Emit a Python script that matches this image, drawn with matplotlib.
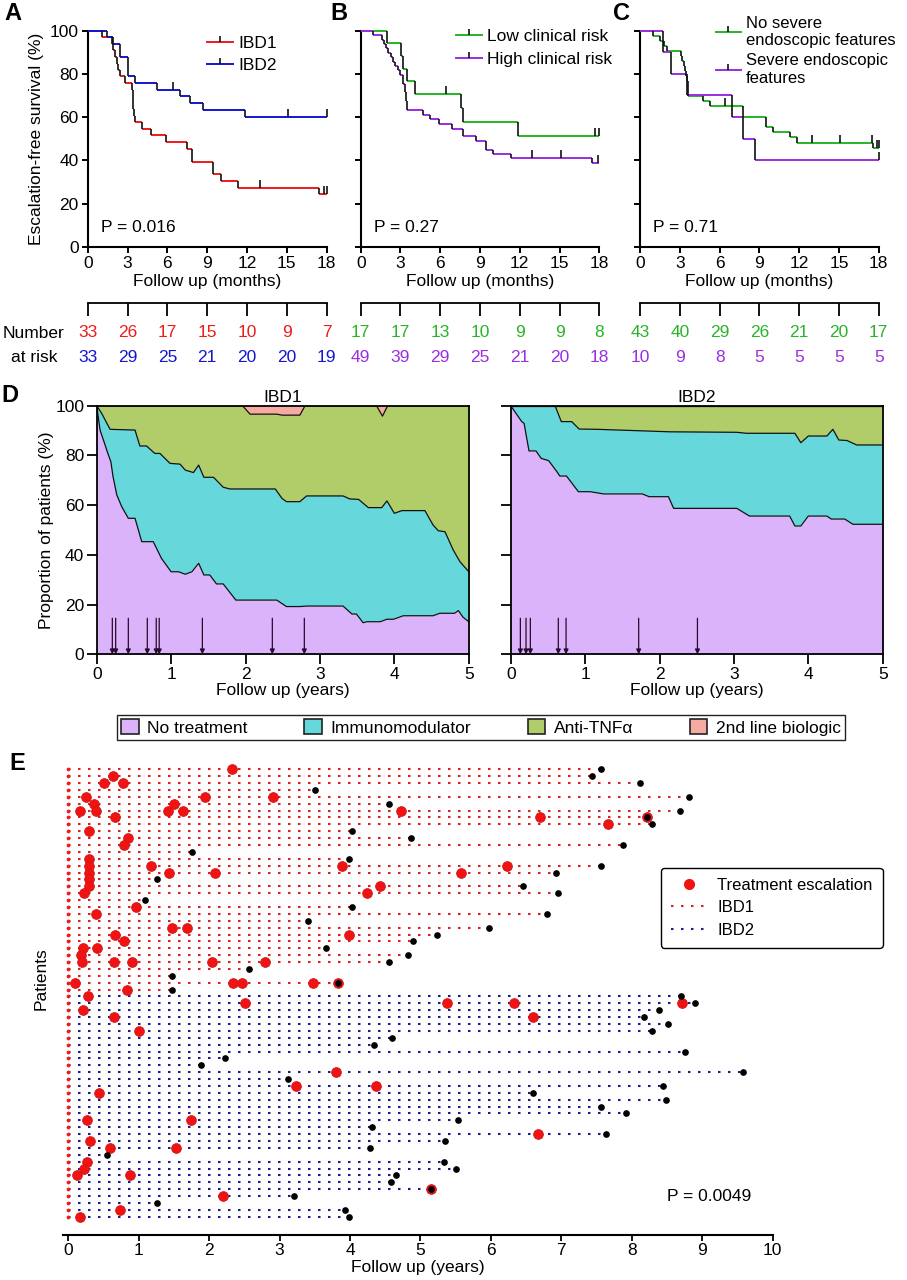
import matplotlib
matplotlib.use('Agg')
import matplotlib.pyplot as plt
import numpy as np
from matplotlib.lines import Line2D
from matplotlib.patches import Patch

plt.rcParams['font.family'] = ['Liberation Sans', 'DejaVu Sans']

# ---------------- DATA ----------------
# Panel A: escalation-free survival (months, %)
a_ibd1_t = [0, 1.05, 1.81, 1.93, 2.05, 2.18, 2.31, 2.45, 2.81, 3.31, 3.38, 3.44, 3.50, 3.57, 4.07, 4.75, 5.87, 7.46, 7.83, 9.47, 10.02, 11.35, 17.42]
a_ibd1_s = [100, 97.0, 93.9, 90.9, 87.9, 84.8, 81.8, 78.8, 75.8, 72.7, 69.7, 63.6, 60.6, 57.6, 54.5, 51.5, 48.5, 45.4, 39.4, 33.7, 30.6, 27.3, 24.2]
a_ibd1_c = [12.98, 17.8, 18.0]
a_ibd2_t = [0, 1.43, 1.93, 2.43, 3.02, 3.07, 3.57, 5.20, 6.95, 7.71, 8.71, 11.85]
a_ibd2_s = [100, 97.0, 93.9, 87.9, 81.8, 78.8, 75.8, 72.7, 69.6, 66.5, 63.3, 60.1]
a_ibd2_c = [6.45, 15.1, 18.0]

# Panel B
b_low_t = [0, 1.96, 3.02, 3.22, 3.50, 4.10, 7.54, 7.69, 11.89]
b_low_s = [100, 94.1, 88.2, 82.4, 76.5, 70.6, 64.2, 57.8, 51.4]
b_low_c = [6.44, 17.7, 18.0]
b_high_t = [0, 0.96, 1.58, 1.76, 1.91, 2.09, 2.26, 2.41, 2.59, 2.79, 2.97, 3.17, 3.34, 3.42, 3.52, 4.68, 5.23, 5.93, 6.86, 7.74, 8.67, 9.45, 10.0, 11.34, 17.47]
b_high_s = [100, 98.0, 95.9, 93.9, 91.8, 89.8, 87.8, 85.7, 83.7, 81.6, 79.6, 75.5, 71.4, 67.3, 63.3, 61.1, 59.3, 56.8, 54.5, 51.2, 49.1, 44.8, 42.9, 40.9, 38.6]
b_high_c = [12.92, 15.08, 17.9]

# Panel C
c_no_t = [0, 1.0, 1.51, 1.81, 2.01, 3.07, 3.20, 3.30, 3.40, 3.47, 3.55, 3.60, 3.65, 4.78, 5.28, 7.74, 9.48, 10.05, 11.30, 11.86, 17.6]
c_no_s = [100, 97.7, 95.3, 93.0, 90.7, 88.4, 86.0, 83.7, 81.4, 79.1, 76.7, 74.4, 69.8, 67.4, 65.0, 60.2, 55.6, 53.2, 50.7, 48.1, 45.7]
c_no_c = [6.41, 12.95, 15.08, 17.47, 17.85, 18.0]
c_sev_t = [0, 1.76, 2.31, 3.57, 6.91, 7.74, 8.67]
c_sev_s = [100, 90, 80, 70, 60, 50, 40]
c_sev_c = [18.0]

risk_times = [0, 3, 6, 9, 12, 15, 18]
risk_a1 = [33, 26, 17, 15, 10, 9, 7]
risk_a2 = [33, 29, 25, 21, 20, 20, 19]
risk_b1 = [17, 17, 13, 10, 9, 9, 8]
risk_b2 = [49, 39, 29, 25, 21, 20, 18]
risk_c1 = [43, 40, 29, 26, 21, 20, 17]
risk_c2 = [10, 9, 8, 5, 5, 5, 5]

# Panel D (years, cumulative %): boundaries between layers
d1_b1_t = [0, 0.045, 0.09, 0.157, 0.19, 0.22, 0.27, 0.336, 0.425, 0.515, 0.605, 0.76, 0.87, 1.0, 1.1, 1.19, 1.28, 1.37, 1.44, 1.52, 1.61, 1.70, 1.87, 2.42, 2.55, 2.73, 2.82, 3.31, 3.43, 3.49, 3.58, 3.63, 3.81, 3.9, 3.99, 4.12, 4.52, 4.61, 4.81, 4.86, 4.92, 5.0]
d1_b1_y = [100, 90.2, 86.2, 80.2, 77.5, 71.4, 64.1, 59.4, 54.7, 54.7, 45.3, 45.3, 38.6, 33.2, 33.2, 32.2, 33.2, 36.6, 31.9, 31.9, 28.3, 28.3, 21.8, 21.8, 19.2, 19.2, 19.4, 19.4, 16.2, 16.2, 12.7, 13.1, 13.1, 14.1, 14.1, 15.5, 15.5, 16.5, 16.5, 17.6, 15.0, 13.1]
d1_b2_t = [0, 0.067, 0.18, 0.515, 0.58, 0.67, 0.78, 0.85, 0.985, 1.12, 1.19, 1.30, 1.37, 1.44, 1.57, 1.70, 1.79, 2.40, 2.49, 2.55, 2.73, 2.82, 3.31, 3.40, 3.52, 3.65, 3.83, 3.90, 4.0, 4.10, 4.41, 4.52, 4.59, 4.68, 4.79, 4.88, 5.0]
d1_b2_y = [100, 96.9, 90.5, 90.2, 83.8, 83.8, 80.8, 80.8, 76.8, 76.5, 74.1, 73.1, 76.1, 71.2, 71.2, 67.2, 66.5, 66.5, 62.7, 61.4, 61.4, 63.7, 63.7, 62.5, 62.3, 59.0, 59.0, 61.7, 56.7, 57.8, 57.8, 52.0, 49.7, 49.3, 42.0, 37.3, 33.2]
d1_b3_t = [0, 1.96, 2.06, 2.42, 2.49, 2.73, 2.80, 3.76, 3.84, 3.91, 5.0]
d1_b3_y = [100, 100, 96.6, 96.6, 96.2, 96.2, 100, 100, 95.8, 100, 100]
d1_arrows = [0.21, 0.255, 0.425, 0.68, 0.80, 0.84, 1.42, 2.36, 2.79]

d2_b1_t = [0, 0.148, 0.18, 0.246, 0.34, 0.41, 0.51, 0.62, 0.66, 0.75, 0.91, 1.07, 1.25, 1.77, 1.86, 2.12, 2.19, 3.04, 3.21, 3.75, 3.82, 3.90, 4.0, 4.25, 4.31, 4.49, 4.60, 5.0]
d2_b1_y = [100, 93.6, 92.9, 81.8, 81.8, 78.8, 77.9, 73.5, 71.7, 71.7, 65.4, 65.4, 64.5, 64.5, 63.4, 63.4, 58.7, 58.7, 55.6, 55.6, 51.6, 51.6, 55.6, 55.6, 54.4, 54.4, 52.3, 52.3]
d2_b2_t = [0, 0.596, 0.68, 0.82, 0.92, 1.16, 2.14, 3.04, 3.17, 3.82, 3.90, 4.0, 4.25, 4.33, 4.41, 4.52, 4.65, 5.0]
d2_b2_y = [100, 100, 93.6, 93.6, 90.6, 90.5, 89.5, 89.3, 88.9, 88.9, 85.1, 87.8, 87.8, 90.5, 86.2, 86.0, 84.2, 84.2]
d2_b3_t = [0, 5.0]
d2_b3_y = [100, 100]
d2_arrows = [0.13, 0.206, 0.264, 0.64, 0.744, 1.72, 2.51]

d_labels = ['No treatment', 'Immunomodulator', 'Anti-TNFα', '2nd line biologic']

# Panel E: swimmer plot (years)
ibd1_end = [7.56, 7.44, 8.11, 3.50, 8.81, 4.56, 8.69, 8.22, 8.29, 4.03, 4.87, 7.88, 1.76, 3.98, 7.56, 6.93, 1.26,
            6.46, 6.95, 1.09, 4.03, 6.79, 3.40, 5.97, 5.23, 4.89, 3.66, 4.82, 4.55, 2.57, 1.48, 3.83, 1.48]
ibd1_esc = [[2.33], [0.64], [0.51, 0.78], [], [0.25, 1.94, 2.90], [0.37, 1.50], [0.17, 0.39, 1.41, 1.63, 4.73],
            [0.66, 6.70, 8.22], [7.66], [0.30], [0.85], [0.79], [], [0.30], [0.30, 1.17, 3.88, 6.23],
            [0.30, 1.43, 2.09, 5.58], [0.30], [0.30, 4.43], [0.22, 4.24], [], [0.96], [0.40], [], [1.47, 1.68],
            [0.66, 3.98], [0.79], [0.21, 0.41], [0.18], [0.19, 0.65, 0.90, 2.04, 2.79], [], [],
            [0.10, 2.34, 2.47, 3.47, 3.83], [0.84]]
ibd2_end = [8.70, 8.90, 8.38, 8.18, 8.51, 8.29, 4.60, 4.34, 8.76, 2.23, 1.89, 9.58, 3.125, 8.44, 6.60, 8.48, 7.56,
            7.92, 5.53, 4.31, 7.63, 5.35, 4.28, 0.545, 5.34, 5.51, 4.65, 4.58, 5.15, 3.21, 1.26, 3.93, 3.99]
ibd2_esc = [[0.28], [2.51, 5.37, 6.33, 8.71], [0.21], [0.65, 6.60], [], [1.00], [], [], [], [], [], [3.80], [],
            [3.23, 4.37], [0.44], [], [], [], [0.27, 1.74], [], [6.67], [0.31], [0.59, 1.53], [], [0.27], [0.22],
            [0.13, 0.87], [], [5.15], [2.19], [], [0.74], [0.17]]

# ---------------- STYLE ----------------
W, H = 907, 1280
RED = '#ee1b1b'
BLUE = '#1515cf'
GREEN = '#27b427'
PURPLE = '#9a2ee0'
C_NONE = '#dab3fb'
C_IMM = '#66d8dc'
C_TNF = '#b1cd69'
C_BIO = '#f5aaa2'
FS = 12.5

fig = plt.figure(figsize=(W / 100, H / 100), dpi=100)


def fbox(x0, y0, x1, y1):
    return [x0 / W, 1 - y1 / H, (x1 - x0) / W, (y1 - y0) / H]


def km(ax, t, s, color, censor, tend=18):
    tt = list(t) + [tend]
    ax.hlines(s, tt[:-1], tt[1:], colors=color, lw=1.4, clip_on=False, zorder=3)
    ax.vlines(tt[1:len(s)], s[:-1], s[1:], colors='#111111', lw=1.2, clip_on=False, zorder=4)
    for c in censor:
        idx = int(np.searchsorted(t, c, side='right')) - 1
        ax.plot([c], [s[idx]], marker=2, ms=5.5, mew=1.2, color='#111111', clip_on=False, zorder=5)


def km_axes(box, ylab):
    ax = fig.add_axes(fbox(*box))
    ax.set_xlim(0, 18)
    ax.set_ylim(0, 100)
    ax.set_xticks(risk_times)
    ax.set_yticks(range(0, 101, 20))
    for sp in ['top', 'right']:
        ax.spines[sp].set_visible(False)
    for sp in ['left', 'bottom']:
        ax.spines[sp].set_linewidth(1.5)
    ax.tick_params(direction='out', length=4, width=1.4, labelsize=FS, pad=2.5)
    ax.set_xlabel('Follow up (months)', fontsize=FS, labelpad=2)
    if ylab:
        ax.set_ylabel('Escalation-free survival (%)', fontsize=FS, labelpad=4)
    else:
        ax.set_yticklabels([])
    return ax


def leg_handle(color):
    return Line2D([0], [0], color=color, lw=1.4, marker=2, ms=4.5, mew=1.2, mec='#111111')


axA = km_axes((87.7, 30.7, 326.7, 246.7), True)
km(axA, a_ibd1_t, a_ibd1_s, RED, a_ibd1_c)
km(axA, a_ibd2_t, a_ibd2_s, BLUE, a_ibd2_c)
axA.text(1.0, 8.7, 'P = 0.016', fontsize=FS, va='center')
axA.legend([leg_handle(RED), leg_handle(BLUE)], ['IBD1', 'IBD2'], loc='upper left',
           bbox_to_anchor=(0.47, 1.01), frameon=False, fontsize=FS, handlelength=1.5,
           handletextpad=0.3, labelspacing=0.42, borderaxespad=0)

axB = km_axes((360.7, 30.7, 599.3, 246.7), False)
km(axB, b_low_t, b_low_s, GREEN, b_low_c)
km(axB, b_high_t, b_high_s, PURPLE, b_high_c)
axB.text(1.0, 8.7, 'P = 0.27', fontsize=FS, va='center')
axB.legend([leg_handle(GREEN), leg_handle(PURPLE)], ['Low clinical risk', 'High clinical risk'], loc='upper left',
           bbox_to_anchor=(0.37, 1.04), frameon=False, fontsize=FS, handlelength=1.5,
           handletextpad=0.3, labelspacing=0.45, borderaxespad=0)

axC = km_axes((640, 30.7, 878.7, 246.7), False)
km(axC, c_no_t, c_no_s, GREEN, c_no_c)
km(axC, c_sev_t, c_sev_s, PURPLE, c_sev_c)
axC.text(1.0, 8.7, 'P = 0.71', fontsize=FS, va='center')
axC.legend([leg_handle(GREEN), leg_handle(PURPLE)], ['No severe\nendoscopic features', 'Severe endoscopic\nfeatures'],
           loc='upper left', bbox_to_anchor=(0.289, 1.1), frameon=False, fontsize=12, handlelength=1.5,
           handletextpad=0.3, labelspacing=0.3, borderaxespad=0)

# Number at risk brackets
for (x0, x1), r1, r2, c1, c2 in [((87.7, 326.7), risk_a1, risk_a2, RED, BLUE),
                                 ((360.7, 599.3), risk_b1, risk_b2, GREEN, PURPLE),
                                 ((640, 878.7), risk_c1, risk_c2, GREEN, PURPLE)]:
    axb = fig.add_axes(fbox(x0, 302.7, x1, 365))
    axb.set_xlim(0, 18)
    axb.set_ylim(0, 1)
    axb.patch.set_alpha(0)
    for sp in ['left', 'right', 'bottom']:
        axb.spines[sp].set_visible(False)
    axb.spines['top'].set_linewidth(1.3)
    axb.set_xticks(risk_times)
    axb.xaxis.set_ticks_position('top')
    axb.tick_params(axis='x', direction='in', length=9, width=1.3, labeltop=False, labelbottom=False)
    axb.set_yticks([])
    for k, t in enumerate(risk_times):
        axb.text(t, 0.514, str(r1[k]), ha='center', va='center', color=c1, fontsize=FS)
        axb.text(t, 0.128, str(r2[k]), ha='center', va='center', color=c2, fontsize=FS)
fig.text(33 / W, 1 - 333 / H, 'Number', ha='center', va='center', fontsize=FS)
fig.text(34 / W, 1 - 357 / H, 'at risk', ha='center', va='center', fontsize=FS)


# Panel D
def d_axes(box, title, ylab):
    ax = fig.add_axes(fbox(*box))
    ax.set_xlim(0, 5)
    ax.set_ylim(0, 100)
    ax.set_xticks(range(0, 6))
    ax.set_yticks(range(0, 101, 20))
    for sp in ax.spines.values():
        sp.set_linewidth(1.3)
    ax.tick_params(direction='out', length=7, width=1.3, labelsize=FS, pad=2)
    ax.set_xlabel('Follow up (years)', fontsize=FS, labelpad=1)
    ax.set_title(title, fontsize=FS, pad=3)
    if ylab:
        ax.set_ylabel('Proportion of patients (%)', fontsize=FS, labelpad=1)
    else:
        ax.set_yticklabels([])
    return ax


def d_fill(ax, b1t, b1y, b2t, b2y, b3t, b3y, arrows):
    ax.fill_between(b1t, 0, b1y, color=C_NONE, lw=0)
    ax.fill(np.r_[b1t, b2t[::-1]], np.r_[b1y, b2y[::-1]], color=C_IMM, lw=0)
    ax.fill(np.r_[b2t, b3t[::-1]], np.r_[b2y, b3y[::-1]], color=C_TNF, lw=0)
    ax.fill_between(b3t, b3y, 100, color=C_BIO, lw=0)
    for bt, by in [(b1t, b1y), (b2t, b2y), (b3t, b3y)]:
        ax.plot(bt, by, color='#111111', lw=0.9)
    for a in arrows:
        ax.annotate('', xy=(a, 0), xytext=(a, 14.5),
                    arrowprops=dict(arrowstyle='-|>', color='#2a0a2a', lw=0.9, mutation_scale=7,
                                    shrinkA=0, shrinkB=0))


axD1 = d_axes((96.7, 405.7, 468.8, 654.3), 'IBD1', True)
d_fill(axD1, d1_b1_t, d1_b1_y, d1_b2_t, d1_b2_y, d1_b3_t, d1_b3_y, d1_arrows)
axD2 = d_axes((510.7, 405.7, 882.7, 654.3), 'IBD2', False)
d_fill(axD2, d2_b1_t, d2_b1_y, d2_b2_t, d2_b2_y, d2_b3_t, d2_b3_y, d2_arrows)

d_handles = [Patch(facecolor=c, edgecolor='#222222', lw=1.2) for c in (C_NONE, C_IMM, C_TNF, C_BIO)]
fig.legend(d_handles, d_labels, ncol=4, mode='expand', loc='lower left',
           bbox_to_anchor=(117 / W, 1 - 740 / H, (845 - 117) / W, (740 - 711.7) / H),
           fancybox=False, edgecolor='#222222', framealpha=1, fontsize=FS, handlelength=1.0,
           handleheight=1.0, handletextpad=0.5, borderaxespad=0, borderpad=0.25, columnspacing=1.0)

# Panel E
axE = fig.add_axes(fbox(63.3, 760, 772.7, 1235))
axE.set_xlim(-0.07, 10)
axE.set_ylim(67.65, -1.35)
for sp in ['top', 'right', 'left']:
    axE.spines[sp].set_visible(False)
axE.spines['bottom'].set_linewidth(1.5)
axE.set_xticks(range(0, 11))
axE.set_yticks([])
axE.tick_params(axis='x', direction='out', length=4, width=1.3, labelsize=FS, pad=2)
axE.set_xlabel('Follow up (years)', fontsize=FS, labelpad=1)
axE.set_ylabel('Patients', fontsize=FS)
axE.yaxis.set_label_coords(-0.021, 0.54)

DOT = (0, (1.2, 3.6))
L_RED = '#d42424'
L_BLUE = '#1d1d8a'
groups = [(ibd1_end, ibd1_esc, L_RED, 0), (ibd2_end, ibd2_esc, L_BLUE, len(ibd1_end))]
for ends, escs, lc, off in groups:
    for i, e in enumerate(ends):
        axE.plot([0, e], [off + i, off + i], color=lc, lw=1.5, linestyle=DOT, zorder=2)
nrows = len(ibd1_end) + len(ibd2_end)
axE.plot(np.zeros(nrows), np.arange(nrows), 'o', ms=2.7, mew=0, color=RED, zorder=3, clip_on=False)
for ends, escs, lc, off in groups:
    for i, ev in enumerate(escs):
        if ev:
            axE.plot(ev, [off + i] * len(ev), 'o', ms=7, mfc='#f21212', mec='#cc1a1a', mew=0.6, zorder=4)
for ends, escs, lc, off in groups:
    axE.plot(ends, np.arange(len(ends)) + off, 'o', ms=3.8, color='black', zorder=5)
axE.text(8.5, 62.1, 'P = 0.0049', fontsize=FS, va='center')

e_handles = [Line2D([0], [0], marker='o', ms=7, color='#f21212', linestyle='none'),
             Line2D([0], [0], color=L_RED, lw=1.5, linestyle=DOT),
             Line2D([0], [0], color=L_BLUE, lw=1.5, linestyle=DOT)]
legE = axE.legend(e_handles, ['Treatment escalation', 'IBD1', 'IBD2'], loc='upper left',
                  bbox_to_anchor=(660.7 / W, 1 - 867.7 / H), bbox_transform=fig.transFigure,
                  fancybox=True, edgecolor='black', framealpha=1, fontsize=12, handlelength=2.2,
                  handletextpad=0.6, borderpad=0.6, labelspacing=0.45, borderaxespad=0)
legE.get_frame().set_linewidth(1.0)

# Panel letters
for lab, x, y in [('A', 12.5, 14), ('B', 339, 14), ('C', 622, 14), ('D', 10, 395), ('E', 17.5, 763)]:
    fig.text(x / W, 1 - y / H, lab, fontsize=17, fontweight='bold', ha='center', va='center')

fig.savefig('out.png', dpi=100)
